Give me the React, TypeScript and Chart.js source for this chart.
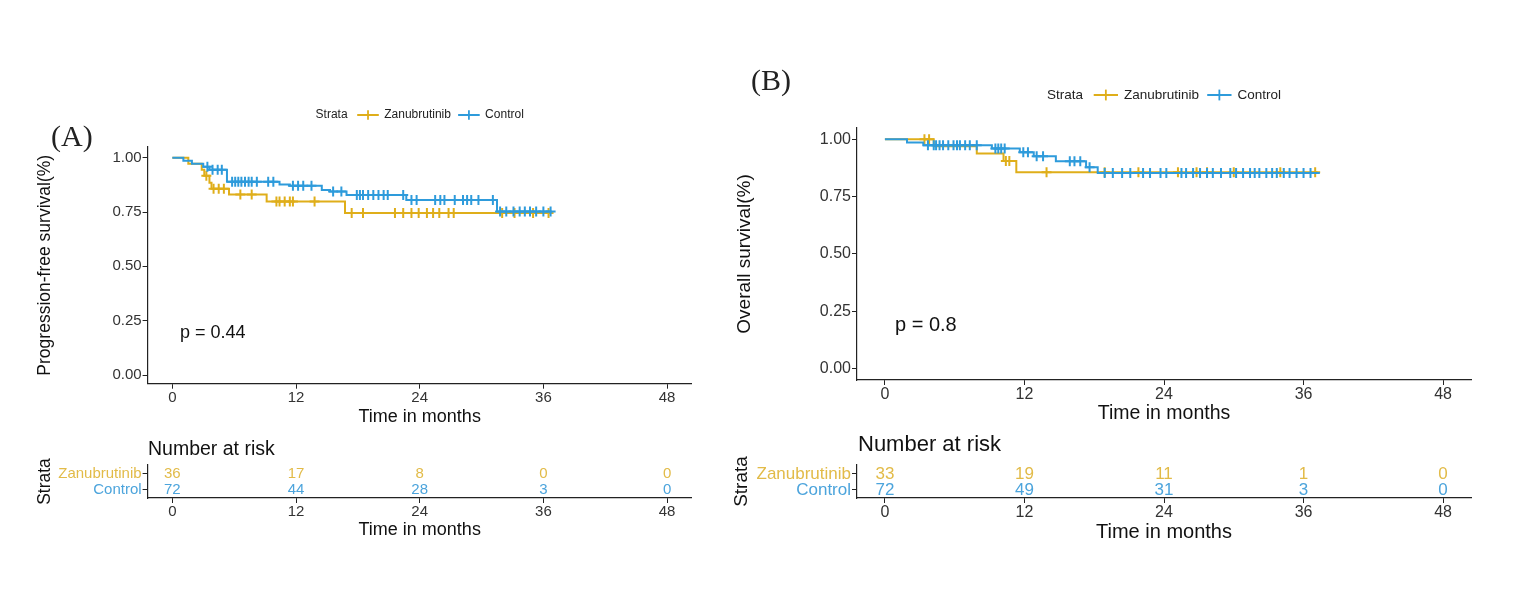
import React, { useEffect, useRef } from 'react';
import { Chart, registerables } from 'chart.js';
Chart.register(...registerables);

const GOLD = '#DFAE1A';
const BLUE = '#2E9BDB';
const GOLD_TXT = '#E2BB48';
const BLUE_TXT = '#4CA4DC';
const FONT = '"Liberation Sans", Arial, Helvetica, sans-serif';
const SERIF = '"Liberation Serif", "Times New Roman", serif';

// ---------- data ----------
const xTicks = [0, 12, 24, 36, 48];
const yTicks = [0, 0.25, 0.5, 0.75, 1];
const groupNames = ['Zanubrutinib', 'Control'];

// (A) Progression-free survival
const pfsZanTimes = [0, 1.55, 2.85, 3.1, 3.6, 3.8, 5.5, 9.15, 16.75, 36.8];
const pfsZanSurv = [1.0, 0.972, 0.944, 0.917, 0.885, 0.857, 0.831, 0.798, 0.745, 0.745];
const pfsZanCensor = [3.3, 4.0, 4.5, 5.0, 6.6, 7.7, 10.1, 10.4, 10.9, 11.4, 11.7, 13.8, 17.4, 18.5, 21.6, 22.4, 23.2, 23.9, 24.7, 25.3, 25.9, 26.8, 27.3, 32.0, 33.2, 35.0, 36.5];
const pfsCtlTimes = [0, 1.07, 1.9, 3.0, 3.6, 5.3, 10.4, 11.4, 14.5, 15.3, 16.9, 22.7, 31.5, 36.8];
const pfsCtlSurv = [1.0, 0.986, 0.972, 0.958, 0.944, 0.889, 0.877, 0.871, 0.851, 0.844, 0.828, 0.805, 0.752, 0.752];
const pfsCtlCensor = [3.4, 3.9, 4.4, 4.8, 5.8, 6.1, 6.4, 6.7, 7.05, 7.4, 7.7, 8.2, 9.3, 9.8, 11.7, 12.2, 12.7, 13.5, 15.6, 16.4, 17.9, 18.2, 18.5, 19.0, 19.5, 20.0, 20.5, 20.9, 22.4, 23.2, 23.7, 25.5, 26.0, 26.4, 27.4, 28.2, 28.6, 29.0, 29.7, 31.1, 31.8, 32.4, 33.1, 33.7, 34.2, 34.7, 35.3, 36.0, 36.7];
const pfsRiskZan = [36, 17, 8, 0, 0];
const pfsRiskCtl = [72, 44, 28, 3, 0];

// (B) Overall survival
const osZanTimes = [0, 4.2, 7.9, 10.2, 11.3, 37.2];
const osZanSurv = [1.0, 0.970, 0.938, 0.906, 0.856, 0.856];
const osZanCensor = [3.4, 3.8, 10.4, 10.7, 13.9, 18.9, 21.8, 25.2, 26.8, 27.7, 30.0, 34.0, 37.0];
const osCtlTimes = [0, 1.9, 3.3, 9.2, 11.6, 12.8, 14.7, 17.3, 18.3, 37.4];
const osCtlSurv = [1.0, 0.986, 0.974, 0.960, 0.944, 0.926, 0.904, 0.878, 0.853, 0.853];
const osCtlCensor = [3.7, 4.2, 4.4, 4.7, 5.0, 5.45, 5.9, 6.2, 6.45, 6.9, 7.3, 7.9, 9.5, 9.75, 10.0, 10.3, 11.9, 12.3, 13.05, 13.6, 15.9, 16.3, 16.8, 17.6, 18.9, 19.6, 20.4, 21.1, 22.2, 22.8, 23.7, 24.2, 25.5, 25.9, 26.5, 27.1, 27.7, 28.2, 28.9, 29.7, 30.2, 30.8, 31.4, 31.8, 32.2, 32.8, 33.3, 33.7, 34.3, 34.8, 35.4, 36.0, 36.6];
const osRiskZan = [33, 19, 11, 1, 0];
const osRiskCtl = [72, 49, 31, 3, 0];

// ---------- helpers ----------
function stepAt(times: number[], surv: number[], t: number) {
  let v = surv[0];
  for (let i = 0; i < times.length; i++) if (times[i] <= t) v = surv[i];
  return v;
}
const curve = (times: number[], surv: number[]) => times.map((t, i) => ({ x: t, y: surv[i] }));
const marks = (times: number[], surv: number[], cens: number[]) => cens.map((t) => ({ x: t, y: stepAt(times, surv, t) }));
const font = (size: number, family = FONT) => ({ size, family });

function axisBase(tickSize: number) {
  return {
    grid: { display: true, drawOnChartArea: false, drawTicks: true, tickLength: 5, color: '#222', lineWidth: 1 },
    border: { display: true, color: '#222', width: 1.2 },
    ticks: { font: font(tickSize), color: '#333', padding: 0, maxRotation: 0, autoSkip: false },
  };
}

function kmChart(canvas: HTMLCanvasElement, s: any) {
  const textPlugin = {
    id: 'kmText',
    afterDraw(chart: any) {
      const ctx = chart.ctx;
      const ca = chart.chartArea;
      ctx.save();
      // legend
      ctx.font = `${s.legendSize}px ${FONT}`;
      ctx.textBaseline = 'middle';
      ctx.textAlign = 'left';
      const ws = ctx.measureText('Strata').width;
      const wz = ctx.measureText(groupNames[0]).width;
      const wc = ctx.measureText(groupNames[1]).width;
      const sym = s.legendSize * 1.8;
      const g1 = s.legendSize * 0.8, g2 = s.legendSize * 0.45, g3 = s.legendSize * 0.6;
      const total = ws + g1 + sym + g2 + wz + g3 + sym + g2 + wc;
      let x = (ca.left + ca.right) / 2 - total / 2;
      const y = s.legendY;
      ctx.fillStyle = '#222';
      ctx.fillText('Strata', x, y);
      x += ws + g1;
      const drawSym = (col: string) => {
        ctx.strokeStyle = col;
        ctx.lineWidth = 2;
        ctx.beginPath(); ctx.moveTo(x, y); ctx.lineTo(x + sym, y); ctx.stroke();
        const a = s.legendSize * 0.4;
        ctx.lineWidth = 1.8;
        ctx.beginPath();
        ctx.moveTo(x + sym / 2, y - a); ctx.lineTo(x + sym / 2, y + a);
        ctx.stroke();
      };
      drawSym(GOLD); x += sym + g2;
      ctx.fillStyle = '#222';
      ctx.fillText(groupNames[0], x, y); x += wz + g3;
      drawSym(BLUE); x += sym + g2;
      ctx.fillStyle = '#222';
      ctx.fillText(groupNames[1], x, y);
      // p value
      ctx.font = `${s.pSize}px ${FONT}`;
      ctx.fillStyle = '#111';
      ctx.fillText(s.pText, s.pX, s.pY);
      // panel tag
      ctx.font = `${s.tagSize}px ${SERIF}`;
      ctx.fillStyle = '#222';
      ctx.fillText(s.tag, s.tagX, s.tagY);
      ctx.restore();
    },
  };
  const xb = axisBase(s.tickSize);
  const yb = axisBase(s.tickSize);
  return new Chart(canvas, {
    type: 'scatter',
    data: {
      datasets: [
        { label: 'Control', data: curve(s.ctl.times, s.ctl.surv), showLine: true, stepped: 'before', borderColor: BLUE, borderWidth: 2, pointRadius: 0, order: 0 },
        { label: 'Control censored', data: marks(s.ctl.times, s.ctl.surv, s.ctl.cens), showLine: false, pointStyle: 'cross', pointRadius: 5, borderColor: BLUE, borderWidth: 2, order: 0 },
        { label: 'Zanubrutinib', data: curve(s.zan.times, s.zan.surv), showLine: true, stepped: 'before', borderColor: GOLD, borderWidth: 2, pointRadius: 0, order: 1 },
        { label: 'Zanubrutinib censored', data: marks(s.zan.times, s.zan.surv, s.zan.cens), showLine: false, pointStyle: 'cross', pointRadius: 5, borderColor: GOLD, borderWidth: 2, order: 1 },
      ] as any,
    },
    options: {
      animation: false,
      responsive: false,
      devicePixelRatio: 1,
      layout: { padding: { left: 0, top: s.padTop, right: s.padRight, bottom: 0 } },
      plugins: { legend: { display: false }, tooltip: { enabled: false } },
      scales: {
        x: {
          type: 'linear', min: -2.4, max: 50.4,
          ...xb,
          afterBuildTicks: (sc: any) => { sc.ticks = xTicks.map((v) => ({ value: v })); },
          afterFit: (sc: any) => { sc.height = s.xHeight; },
          title: { display: true, text: 'Time in months', font: font(s.xTitleSize), color: '#111', padding: { top: 0, bottom: s.xTitlePad } },
        },
        y: {
          type: 'linear', min: s.yMin, max: 1.05,
          ...yb,
          ticks: { ...yb.ticks, padding: 1, callback: (v: any) => Number(v).toFixed(2) },
          afterBuildTicks: (sc: any) => { sc.ticks = yTicks.map((v) => ({ value: v })); },
          afterFit: (sc: any) => { sc.width = s.yWidth; },
          title: { display: true, text: s.yTitle, font: font(s.yTitleSize), color: '#111', padding: { top: s.yTitlePad, bottom: 0 } },
        },
      },
    } as any,
    plugins: [textPlugin],
  });
}

function riskChart(canvas: HTMLCanvasElement, s: any) {
  const plugin = {
    id: 'riskText',
    afterDraw(chart: any) {
      const ctx = chart.ctx;
      const xs = chart.scales.x, ys = chart.scales.y;
      ctx.save();
      ctx.font = `${s.numSize}px ${FONT}`;
      ctx.textAlign = 'center';
      ctx.textBaseline = 'middle';
      xTicks.forEach((t, i) => {
        ctx.fillStyle = GOLD_TXT;
        ctx.fillText(String(s.zan[i]), xs.getPixelForValue(t), ys.getPixelForValue(2));
        ctx.fillStyle = BLUE_TXT;
        ctx.fillText(String(s.ctl[i]), xs.getPixelForValue(t), ys.getPixelForValue(1));
      });
      ctx.font = `${s.headSize}px ${FONT}`;
      ctx.textAlign = 'left';
      ctx.fillStyle = '#111';
      ctx.fillText('Number at risk', s.headX, s.headY);
      ctx.restore();
    },
  };
  const xb = axisBase(s.tickSize);
  const yb = axisBase(s.rowSize);
  return new Chart(canvas, {
    type: 'scatter',
    data: { datasets: [] },
    options: {
      animation: false,
      responsive: false,
      devicePixelRatio: 1,
      layout: { padding: { left: 0, top: s.padTop, right: s.padRight, bottom: 0 } },
      plugins: { legend: { display: false }, tooltip: { enabled: false } },
      scales: {
        x: {
          type: 'linear', min: -2.4, max: 50.4,
          ...xb,
          afterBuildTicks: (sc: any) => { sc.ticks = xTicks.map((v) => ({ value: v })); },
          afterFit: (sc: any) => { sc.height = s.xHeight; },
          title: { display: true, text: 'Time in months', font: font(s.xTitleSize), color: '#111', padding: { top: 0, bottom: s.xTitlePad } },
        },
        y: {
          type: 'linear', min: 0.5, max: 2.55,
          ...yb,
          ticks: {
            ...yb.ticks, padding: 1,
            callback: (v: any) => (v === 2 ? groupNames[0] : groupNames[1]),
            color: (c: any) => (c.tick && c.tick.value === 2 ? GOLD_TXT : BLUE_TXT),
          },
          afterBuildTicks: (sc: any) => { sc.ticks = [{ value: 1 }, { value: 2 }]; },
          afterFit: (sc: any) => { sc.width = s.yWidth; },
          title: { display: true, text: 'Strata', font: font(s.yTitleSize), color: '#111', padding: { top: s.yTitlePad, bottom: 0 } },
        },
      },
    } as any,
    plugins: [plugin],
  });
}

function ChartCanvas({ left, top, width, height, make }: any) {
  const ref = useRef<HTMLCanvasElement>(null);
  useEffect(() => {
    const chart = make(ref.current as HTMLCanvasElement);
    return () => chart.destroy();
  }, []);
  return <canvas ref={ref} width={width} height={height} style={{ position: 'absolute', left, top, width, height }} />;
}

const specA = {
  padTop: 86.8, padRight: 8.2, yWidth: 147.6, xHeight: 56.3, yMin: -0.04,
  tickSize: 15, yTitle: 'Progression-free survival(%)', yTitleSize: 17.5, yTitlePad: 34.5,
  xTitleSize: 18, xTitlePad: 12, legendY: 55, legendSize: 12,
  pText: 'p = 0.44', pX: 180, pY: 273, pSize: 18, tag: '(A)', tagX: 51, tagY: 78.5, tagSize: 30,
  zan: { times: pfsZanTimes, surv: pfsZanSurv, cens: pfsZanCensor },
  ctl: { times: pfsCtlTimes, surv: pfsCtlSurv, cens: pfsCtlCensor },
};
const specB = {
  padTop: 87.9, padRight: 29, yWidth: 157, xHeight: 60, yMin: -0.05,
  tickSize: 16, yTitle: 'Overall survival(%)', yTitleSize: 19, yTitlePad: 33.6,
  xTitleSize: 19.5, xTitlePad: 14.5, legendY: 55, legendSize: 13.5,
  pText: 'p = 0.8', pX: 195, pY: 285, pSize: 20, tag: '(B)', tagX: 51, tagY: 42, tagSize: 30,
  zan: { times: osZanTimes, surv: osZanSurv, cens: osZanCensor },
  ctl: { times: osCtlTimes, surv: osCtlSurv, cens: osCtlCensor },
};
const riskA = {
  padTop: 35, padRight: 8.2, yWidth: 147.6, xHeight: 47, tickSize: 15, rowSize: 15, numSize: 15,
  yTitleSize: 17.5, yTitlePad: 34.5, xTitleSize: 18, xTitlePad: 4.2,
  headX: 148, headY: 20, headSize: 19.5, zan: pfsRiskZan, ctl: pfsRiskCtl,
};
const riskB = {
  padTop: 35, padRight: 29, yWidth: 157, xHeight: 47, tickSize: 16, rowSize: 17, numSize: 17,
  yTitleSize: 19, yTitlePad: 30.6, xTitleSize: 20, xTitlePad: 1,
  headX: 158, headY: 15, headSize: 22, zan: osRiskZan, ctl: osRiskCtl,
};

export default function App() {
  return (
    <div style={{ position: 'absolute', left: 0, top: 0, width: 1522, height: 592, background: '#fff', overflow: 'hidden' }}>
      <ChartCanvas left={0} top={60} width={700} height={380} make={(c: HTMLCanvasElement) => kmChart(c, specA)} />
      <ChartCanvas left={700} top={40} width={800} height={400} make={(c: HTMLCanvasElement) => kmChart(c, specB)} />
      <ChartCanvas left={0} top={430} width={700} height={115} make={(c: HTMLCanvasElement) => riskChart(c, riskA)} />
      <ChartCanvas left={700} top={430} width={800} height={115} make={(c: HTMLCanvasElement) => riskChart(c, riskB)} />
    </div>
  );
}
